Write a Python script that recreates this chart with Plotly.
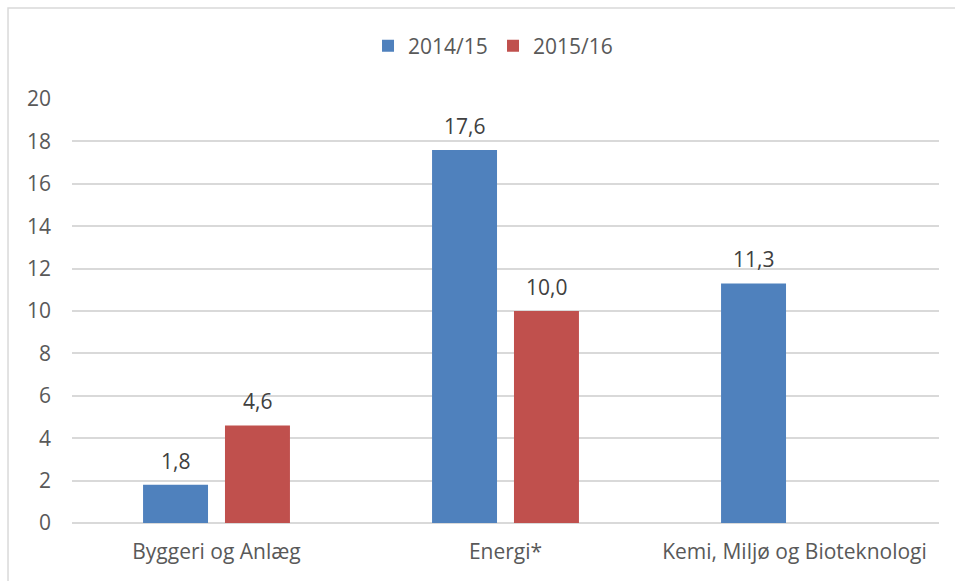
import plotly.graph_objects as go

# Categories and values per academic year
categories = ["Byggeri og Anlæg", "Energi*", "Kemi, Miljø og Bioteknologi"]
series_2014_15 = [1.8, 17.6, 11.3]
series_2015_16 = [4.6, 10.0, None]
series_names = ["2014/15", "2015/16"]
y_ticks = [0, 2, 4, 6, 8, 10, 12, 14, 16, 18, 20]

BLUE = "#4F81BD"
RED = "#C0504D"
TEXT = "#595959"
LABEL = "#404040"
GRID = "#D9D9D9"
FONT = "Open Sans, sans-serif"
FS = 21

fig = go.Figure()
for name, vals, col in [(series_names[0], series_2014_15, BLUE),
                        (series_names[1], series_2015_16, RED)]:
    fig.add_trace(go.Bar(
        x=categories, y=vals, name=name,
        marker=dict(color=col, line=dict(width=0)),
    ))

# value labels above each bar (blue slot left of centre, red slot right)
annotations = []
for vals, shift in [(series_2014_15, -41), (series_2015_16, 41)]:
    for cat, v in zip(categories, vals):
        if v is None:
            continue
        annotations.append(dict(
            x=cat, y=v, xref="x", yref="y", xshift=shift, yshift=8,
            text=f"{v:.1f}".replace(".", ","), showarrow=False,
            yanchor="bottom", font=dict(family=FONT, size=FS, color=LABEL),
        ))

fig.update_layout(
    width=955, height=581,
    margin=dict(l=72, r=16, t=99, b=58, autoexpand=False),
    paper_bgcolor="white", plot_bgcolor="white",
    separators=",.",
    barmode="group", bargap=0.433, bargroupgap=0.207,
    font=dict(family=FONT, size=FS, color=TEXT),
    showlegend=True,
    legend=dict(orientation="h", x=0.4856, xanchor="center", y=1.125, yanchor="middle",
                bgcolor="rgba(0,0,0,0)",
                font=dict(family=FONT, size=FS, color=TEXT),
                itemwidth=30, entrywidth=80, traceorder="normal"),
    xaxis=dict(showgrid=False, showline=False, ticks="", ticklabelstandoff=14,
               tickfont=dict(family=FONT, size=FS, color=TEXT)),
    yaxis=dict(range=[0, 20], tickvals=y_ticks, showgrid=True, gridcolor=GRID,
               gridwidth=1.5, zeroline=True, zerolinecolor=GRID, zerolinewidth=1.5,
               showline=False, ticks="", ticklabelstandoff=20,
               tickfont=dict(family=FONT, size=FS, color=TEXT)),
    annotations=annotations,
    shapes=[dict(type="rect", xref="paper", yref="paper",
                 x0=-0.0738, x1=1.2, y0=-0.3, y1=1.2146,
                 line=dict(color=GRID, width=1.5), fillcolor="rgba(0,0,0,0)",
                 layer="below")],
)

fig.write_html("out.html")
